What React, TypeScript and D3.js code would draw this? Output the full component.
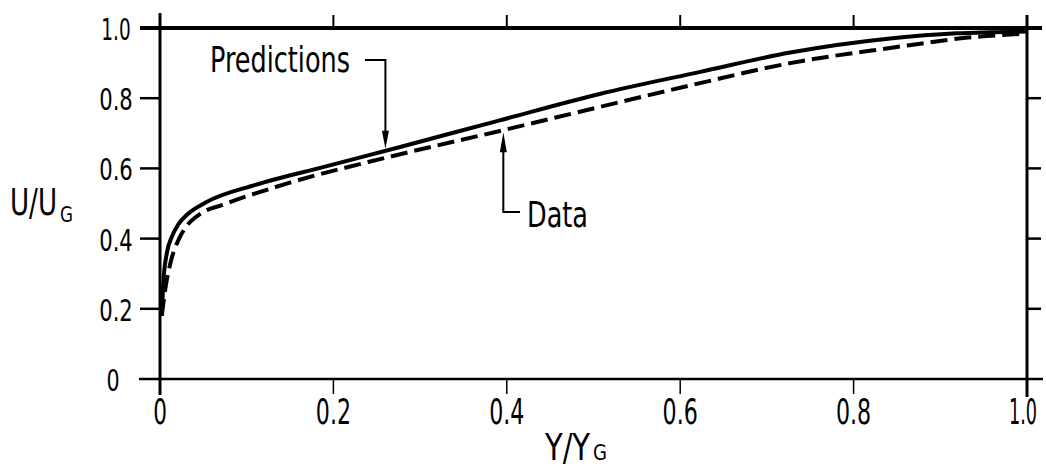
import React, { useLayoutEffect, useRef, useState } from "react";
import * as d3 from "d3";

// Velocity profile U/UG against Y/YG
const predX = [0.002, 0.004, 0.008, 0.014, 0.021, 0.032, 0.052, 0.11, 0.187, 0.24, 0.277, 0.392, 0.507, 0.623, 0.727, 0.842, 0.919, 1.0];
const predY = [0.18, 0.28, 0.36, 0.407, 0.44, 0.47, 0.502, 0.553, 0.603, 0.637, 0.661, 0.737, 0.812, 0.875, 0.93, 0.97, 0.985, 0.99];

const dataX = [0.002, 0.007, 0.012, 0.022, 0.029, 0.048, 0.072, 0.148, 0.263, 0.396, 0.507, 0.623, 0.727, 0.842, 0.938, 1.0];
const dataY = [0.18, 0.27, 0.33, 0.4, 0.43, 0.473, 0.496, 0.558, 0.632, 0.709, 0.775, 0.843, 0.9, 0.943, 0.974, 0.984];

const xTicks = [0, 0.2, 0.4, 0.6, 0.8, 1.0];
const xTickLabels = ["0", "0.2", "0.4", "0.6", "0.8", "1.0"];
const yTicks = [0, 0.2, 0.4, 0.6, 0.8, 1.0];
const yTickLabels = ["0", "0.2", "0.4", "0.6", "0.8", "1.0"];

// Annotation anchors (x in Y/YG units)
const predArrowX = 0.26;
const dataArrowX = 0.396;

const FONT = "'Liberation Sans Narrow', 'DejaVu Sans Condensed', 'Liberation Sans', sans-serif";

const W = 1046;
const H = 468;
const M = { left: 160, right: 1027, top: 28, bottom: 379 };

function labelWidth(s: string, scale: number) {
  let w = 0;
  for (const c of s) w += c === "." ? 7 : c === "1" ? 6 : 12.5;
  return w * scale;
}

function interp(xs: number[], ys: number[], x: number) {
  for (let i = 1; i < xs.length; i++) {
    if (x <= xs[i]) {
      const t = (x - xs[i - 1]) / (xs[i] - xs[i - 1]);
      return ys[i - 1] + t * (ys[i] - ys[i - 1]);
    }
  }
  return ys[ys.length - 1];
}

// Condensed lettering: squeezes the text horizontally to a given width
function NarrowText(props: {
  x: number;
  y: number;
  width: number;
  size: number;
  anchor?: "start" | "middle" | "end";
  children: string;
}) {
  const ref = useRef<SVGTextElement>(null);
  const [sx, setSx] = useState(1);
  useLayoutEffect(() => {
    if (ref.current) {
      const natural = ref.current.getComputedTextLength();
      if (natural > 0) setSx(props.width / natural);
    }
  }, [props.width, props.children, props.size]);
  return (
    <text
      ref={ref}
      transform={`translate(${props.x},${props.y}) scale(${sx},1)`}
      fontSize={props.size}
      textAnchor={props.anchor || "start"}
    >
      {props.children}
    </text>
  );
}

export default function App() {
  const x = d3.scaleLinear().domain([0, 1]).range([M.left, M.right]);
  const y = d3.scaleLinear().domain([0, 1]).range([M.bottom, M.top]);

  const line = d3
    .line<[number, number]>()
    .x((d) => x(d[0]))
    .y((d) => y(d[1]))
    .curve(d3.curveMonotoneX);

  const predPts = predX.map((v, i) => [v, predY[i]] as [number, number]);
  const dataPts = dataX.map((v, i) => [v, dataY[i]] as [number, number]);

  const pax = x(predArrowX);
  const payTip = y(interp(predX, predY, predArrowX)) - 2;
  const dax = x(dataArrowX);
  const dayTip = y(interp(dataX, dataY, dataArrowX)) + 2;

  return (
    <svg
      width={W}
      height={H}
      style={{ position: "absolute", left: 0, top: 0, background: "#fff" }}
      fontFamily={FONT}
    >
      {/* frame */}
      <g stroke="#000" fill="none" strokeLinecap="butt">
        <line x1={M.left} x2={M.left} y1={13} y2={395} strokeWidth={3} />
        <line x1={M.right} x2={M.right} y1={15} y2={397} strokeWidth={3} />
        <line x1={140} x2={1042} y1={M.top} y2={M.top} strokeWidth={4} />
        <line x1={139} x2={1043} y1={M.bottom} y2={M.bottom} strokeWidth={2.5} />
        {/* left ticks */}
        {yTicks.slice(1, -1).map((t) => (
          <line key={"yl" + t} x1={140} x2={M.left} y1={y(t)} y2={y(t)} strokeWidth={2.5} />
        ))}
        {/* right ticks */}
        {yTicks.slice(1, -1).map((t) => (
          <line key={"yr" + t} x1={M.right} x2={1041} y1={y(t)} y2={y(t)} strokeWidth={2.5} />
        ))}
        {/* top ticks */}
        {xTicks.slice(1, -1).map((t) => (
          <line key={"xt" + t} x1={x(t)} x2={x(t)} y1={15} y2={M.top} strokeWidth={2} />
        ))}
        {/* bottom ticks */}
        {xTicks.slice(1, -1).map((t) => (
          <line key={"xb" + t} x1={x(t)} x2={x(t)} y1={M.bottom} y2={394} strokeWidth={1.5} />
        ))}
      </g>

      {/* y tick labels */}
      {yTicks.map((t, i) => (
        <NarrowText
          key={"ylab" + t}
          x={i === 0 ? 113 : 116}
          y={y(t) + 12}
          size={31}
          anchor="middle"
          width={labelWidth(yTickLabels[i], i === yTicks.length - 1 ? 1.15 : 1.05)}
        >
          {yTickLabels[i]}
        </NarrowText>
      ))}

      {/* x tick labels */}
      {xTicks.map((t, i) => (
        <NarrowText
          key={"xlab" + t}
          x={i === xTicks.length - 1 ? x(t) - 4 : x(t)}
          y={424}
          size={36}
          anchor="middle"
          width={labelWidth(xTickLabels[i], 1.1)}
        >
          {xTickLabels[i]}
        </NarrowText>
      ))}

      {/* axis titles */}
      <NarrowText x={10} y={215} size={37} width={47}>U/U</NarrowText>
      <NarrowText x={60} y={222} size={21} width={13}>G</NarrowText>
      <NarrowText x={545} y={460} size={37} width={45}>Y/Y</NarrowText>
      <NarrowText x={593} y={460} size={21} width={14}>G</NarrowText>

      {/* curves */}
      <path d={line(predPts) || ""} fill="none" stroke="#000" strokeWidth={4} strokeLinejoin="round" />
      <path
        d={line(dataPts) || ""}
        fill="none"
        stroke="#000"
        strokeWidth={4}
        strokeDasharray="17 7"
      />

      {/* Predictions annotation */}
      <NarrowText x={210} y={72} size={36} width={140}>Predictions</NarrowText>
      <g stroke="#000" strokeWidth={2} fill="none">
        <polyline points={`365,60 ${pax},60 ${pax},${payTip - 14}`} />
      </g>
      <path
        d={`M${pax - 3.5},${payTip - 18} L${pax + 3.5},${payTip - 18} L${pax},${payTip} Z`}
        fill="#000"
      />

      {/* Data annotation */}
      <NarrowText x={527} y={227} size={36} width={61}>Data</NarrowText>
      <g stroke="#000" strokeWidth={2} fill="none">
        <polyline points={`520,212 ${dax},212 ${dax},${dayTip + 14}`} />
      </g>
      <path
        d={`M${dax - 3.5},${dayTip + 20} L${dax + 3.5},${dayTip + 20} L${dax},${dayTip} Z`}
        fill="#000"
      />
    </svg>
  );
}
